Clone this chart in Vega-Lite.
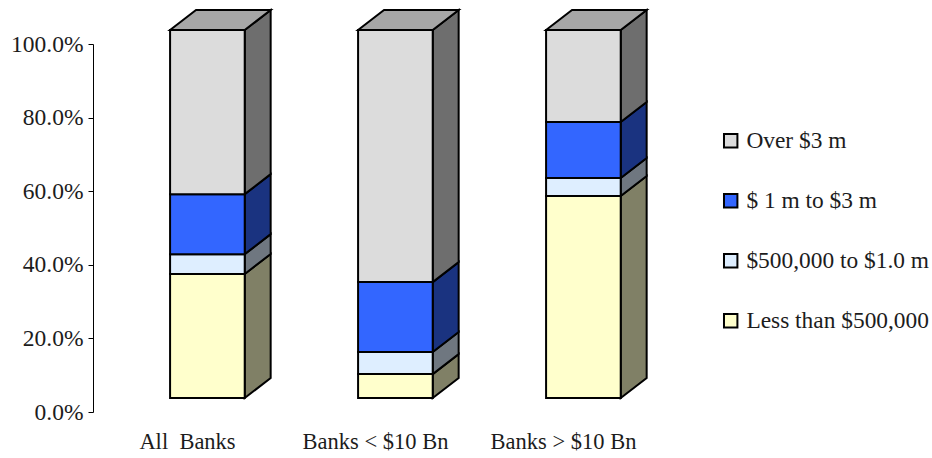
{
  "$schema": "https://vega.github.io/schema/vega-lite/v6.json",
  "width": 564,
  "height": 368,
  "autosize": "none",
  "padding": {"left": 93, "top": 44, "right": 275, "bottom": 46},
  "background": "white",
  "config": {
    "view": {"stroke": null},
    "font": "Liberation Serif"
  },
  "data": {
    "values": [
      {"bank": "All  Banks", "segment": "Less than $500,000", "share": 33.7},
      {"bank": "All  Banks", "segment": "$500,000 to $1.0 m", "share": 5.4},
      {"bank": "All  Banks", "segment": "$ 1 m to $3 m", "share": 16.3},
      {"bank": "All  Banks", "segment": "Over $3 m", "share": 44.6},
      {"bank": "Banks < $10 Bn", "segment": "Less than $500,000", "share": 6.5},
      {"bank": "Banks < $10 Bn", "segment": "$500,000 to $1.0 m", "share": 6.0},
      {"bank": "Banks < $10 Bn", "segment": "$ 1 m to $3 m", "share": 19.0},
      {"bank": "Banks < $10 Bn", "segment": "Over $3 m", "share": 68.5},
      {"bank": "Banks > $10 Bn", "segment": "Less than $500,000", "share": 54.9},
      {"bank": "Banks > $10 Bn", "segment": "$500,000 to $1.0 m", "share": 4.9},
      {"bank": "Banks > $10 Bn", "segment": "$ 1 m to $3 m", "share": 15.2},
      {"bank": "Banks > $10 Bn", "segment": "Over $3 m", "share": 25.0}
    ]
  },
  "transform": [
    {"calculate": "indexof(['Less than $500,000','$500,000 to $1.0 m','$ 1 m to $3 m','Over $3 m'], datum.segment)", "as": "rank"},
    {"calculate": "indexof(['All  Banks','Banks < $10 Bn','Banks > $10 Bn'], datum.bank)", "as": "slot"},
    {"stack": "share", "groupby": ["bank"], "sort": [{"field": "rank", "order": "ascending"}], "as": ["low", "high"]},
    {"calculate": "datum.low + 3.8", "as": "frontLow"},
    {"calculate": "datum.high + 3.8", "as": "frontHigh"},
    {"calculate": "datum.slot + 0.41", "as": "left"},
    {"calculate": "datum.left + 0.397", "as": "right"}
  ],
  "layer": [
    {
      "transform": [
        {"calculate": "[0, 1]", "as": "edge"},
        {"flatten": ["edge"]},
        {"calculate": "datum.right + datum.edge * 0.138", "as": "sx"},
        {"calculate": "datum.frontLow + datum.edge * 5.43", "as": "sLow"},
        {"calculate": "datum.frontHigh + datum.edge * 5.43", "as": "sHigh"}
      ],
      "mark": {"type": "area", "stroke": "black", "strokeWidth": 2, "clip": false},
      "encoding": {
        "x": {"field": "sx", "type": "quantitative", "scale": {"domain": [0, 3], "nice": false},
          "axis": {
            "values": [0.5, 1.5, 2.5],
            "title": null, "domain": false, "ticks": false, "grid": false,
            "labelExpr": "datum.value == 0.5 ? 'All\u00a0\u00a0Banks' : datum.value == 1.5 ? 'Banks < $10 Bn' : 'Banks > $10 Bn'",
            "labelFont": "Liberation Serif", "labelFontSize": 22.5, "labelColor": "#1c1c1c",
            "labelPadding": 18, "labelFlush": false, "labelOverlap": false
          }
        },
        "y": {"field": "sHigh", "type": "quantitative", "stack": null, "scale": {"domain": [0, 100], "nice": false},
          "axis": {
            "values": [0, 20, 40, 60, 80, 100],
            "title": null, "grid": false,
            "domainColor": "black", "domainWidth": 1,
            "tickColor": "black", "tickWidth": 1, "tickSize": 5,
            "labelExpr": "format(datum.value, '.1f') + '%'",
            "labelFont": "Liberation Serif", "labelFontSize": 23.5, "labelColor": "#1c1c1c", "labelPadding": 5
          }
        },
        "y2": {"field": "sLow"},
        "detail": {"field": "bank"},
        "fill": {
          "field": "segment", "type": "nominal", "legend": null,
          "scale": {
            "domain": ["Over $3 m", "$ 1 m to $3 m", "$500,000 to $1.0 m", "Less than $500,000"],
            "range": ["#6e6e6e", "#1a3380", "#6f7780", "#808066"]
          }
        }
      }
    },
    {
      "mark": {"type": "bar", "stroke": "black", "strokeWidth": 2, "clip": false},
      "encoding": {
        "x": {"field": "left", "type": "quantitative"},
        "x2": {"field": "right"},
        "y": {"field": "frontHigh", "type": "quantitative"},
        "y2": {"field": "frontLow"},
        "stroke": {
          "field": "segment", "type": "nominal",
          "scale": {
            "domain": ["Over $3 m", "$ 1 m to $3 m", "$500,000 to $1.0 m", "Less than $500,000"],
            "range": ["black", "black", "black", "black"]
          },
          "legend": null
        },
        "color": {
          "field": "segment", "type": "nominal",
          "scale": {
            "domain": ["Over $3 m", "$ 1 m to $3 m", "$500,000 to $1.0 m", "Less than $500,000"],
            "range": ["#dcdcdc", "#3366ff", "#deeeff", "#ffffcc"]
          },
          "legend": {
            "title": null, "orient": "none", "legendX": 626, "legendY": 85,
            "symbolType": "square", "symbolSize": 180, "symbolStrokeColor": "black", "symbolStrokeWidth": 2,
            "labelFont": "Liberation Serif", "labelFontSize": 23.4, "labelColor": "#1c1c1c",
            "labelOffset": 4, "rowPadding": 35, "labelLimit": 300
          }
        }
      }
    },
    {
      "transform": [
        {"filter": "datum.segment == 'Over $3 m'"},
        {"calculate": "[0, 1, 2, 3]", "as": "corner"},
        {"flatten": ["corner"]},
        {"calculate": "datum.left + [0, 0.138, 0.397, 0.535][datum.corner]", "as": "tx"},
        {"calculate": "datum.frontHigh + (datum.corner == 0 ? 0 : 5.43)", "as": "tUpper"},
        {"calculate": "datum.frontHigh + (datum.corner == 3 ? 5.43 : 0)", "as": "tLower"}
      ],
      "mark": {"type": "area", "color": "#a6a6a6", "stroke": "black", "strokeWidth": 2, "clip": false},
      "encoding": {
        "x": {"field": "tx", "type": "quantitative"},
        "y": {"field": "tUpper", "type": "quantitative", "stack": null},
        "y2": {"field": "tLower"},
        "detail": {"field": "bank"}
      }
    }
  ],
  "resolve": {"legend": {"color": "independent"}}
}
